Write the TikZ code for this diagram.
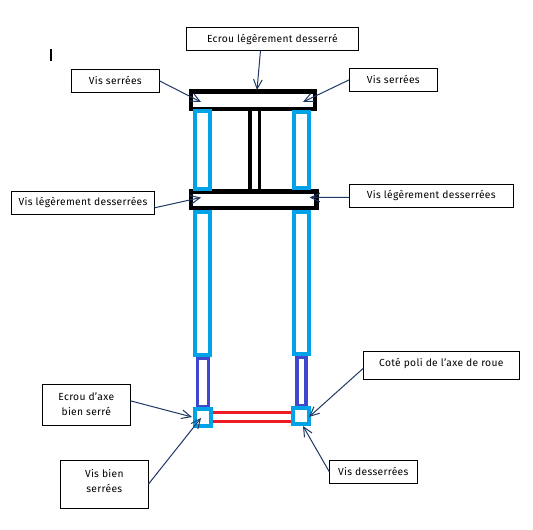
\documentclass[tikz,border=0pt]{standalone}
\usepackage{fontspec}
\setmainfont{Fira Sans}
\usetikzlibrary{arrows.meta}
\definecolor{tubeblue}{HTML}{00A2E8}
\definecolor{indigoc}{HTML}{3F48CC}
\definecolor{redc}{HTML}{ED1C24}
\definecolor{navyc}{HTML}{1F3864}
\tikzset{
  every node/.style={font=\fontsize{7.7pt}{11.4pt}\selectfont\addfontfeatures{LetterSpace=3}},
  lbl/.style={draw=black,line width=0.75pt,fill=white,inner sep=0pt,outer sep=0pt,align=center,minimum height=17.25pt},
  tight/.style={lbl,minimum width=66pt},
  ptr/.style={draw=navyc,line width=0.75pt,-{Straight Barb[length=7pt,width=6.5pt]}},
  bar/.style={draw=black,line width=3.3pt,fill=white},
  tube/.style={draw=tubeblue,line width=3pt,fill=white},
  lowtube/.style={draw=indigoc,line width=2.6pt,fill=white},
  redrod/.style={draw=redc,line width=2.6pt},
}
\begin{document}
\begin{tikzpicture}[x=0.75pt,y=-0.75pt]
\useasboundingbox (0,0) rectangle (533,530);
% cursor mark
\fill[black] (50,49) rectangle (52,61);
% central rod
\draw[draw=black,line width=2.6pt,fill=white] (250,108) rectangle (259.3,191);
% bars
\draw[bar] (191,91.5) rectangle (315,108.8);
\draw[bar] (191,191.5) rectangle (316.5,208);
% tubes
\draw[tube] (195.3,111.3) rectangle (210.3,189.3);
\draw[tube] (294.3,112) rectangle (309,188);
\draw[tube] (195.3,212.3) rectangle (210.3,355.3);
\draw[tube] (294.3,211.7) rectangle (309,354.3);
% lower tubes
\draw[lowtube] (197.5,358.5) rectangle (208.5,407);
\draw[lowtube] (296.8,357.5) rectangle (306,406);
% red rods
\draw[redrod] (213,412.3) -- (291,412.3);
\draw[redrod] (213,421.3) -- (291,421.3);
% squares
\draw[tube] (194.7,409) rectangle (211.3,425.7);
\draw[tube] (292.7,408) rectangle (309.3,424);
% labels
\node[lbl,minimum width=128.6pt] (ecrou) at (272.4,39) {Ecrou légèrement desserré};
\node[tight] (vsl) at (115.3,80.8) {Vis serrées};
\node[tight] (vsr) at (393.3,79.8) {Vis serrées};
\node[lbl,minimum width=107.5pt] (vll) at (83,202.8) {Vis légèrement desserrées};
\node[lbl,minimum width=123pt] (vlr) at (431.3,195.8) {Vis légèrement desserrées};
\node[lbl,minimum width=66pt,minimum height=30.75pt,text depth=1.5pt] (eaxe) at (86.3,404.8) {Ecrou d'axe\\bien serré};
\node[lbl,minimum width=66pt,minimum height=36pt,text depth=5pt] (vbien) at (104.3,484.3) {Vis bien\\serrées};
\node[lbl,minimum width=117pt,minimum height=21pt,text depth=5pt] (cote) at (441.3,365.3) {Coté poli de l'axe de roue};
\node[tight] (vdes) at (373.3,471.8) {Vis desserrées};
% pointer targets
\coordinate (t1) at (257,90);
\coordinate (t2) at (201,102);
\coordinate (t3) at (303,102);
\coordinate (t4) at (201,197.5);
\coordinate (t5) at (309.5,197.5);
\coordinate (t6) at (192,417);
\coordinate (t7) at (201,418);
\coordinate (t8) at (309,417);
\coordinate (t9) at (303,426);
% pointers
\draw[ptr] (ecrou.south -| 260.5,0) -- (t1);
\draw[ptr] (vsl.east) -- (t2);
\draw[ptr] (vsr.west) -- (t3);
\draw[ptr] (vll.east) ++(0,5) -- (t4);
\draw[ptr] (vlr.west) ++(0,1.7) -- (t5);
\draw[ptr] (eaxe.east) ++(0,-4) -- (t6);
\draw[ptr] (vbien.east) -- (t7);
\draw[ptr] (cote.west) ++(0,3) -- (t8);
\draw[ptr] (vdes.west) -- (t9);
\end{tikzpicture}
\end{document}
